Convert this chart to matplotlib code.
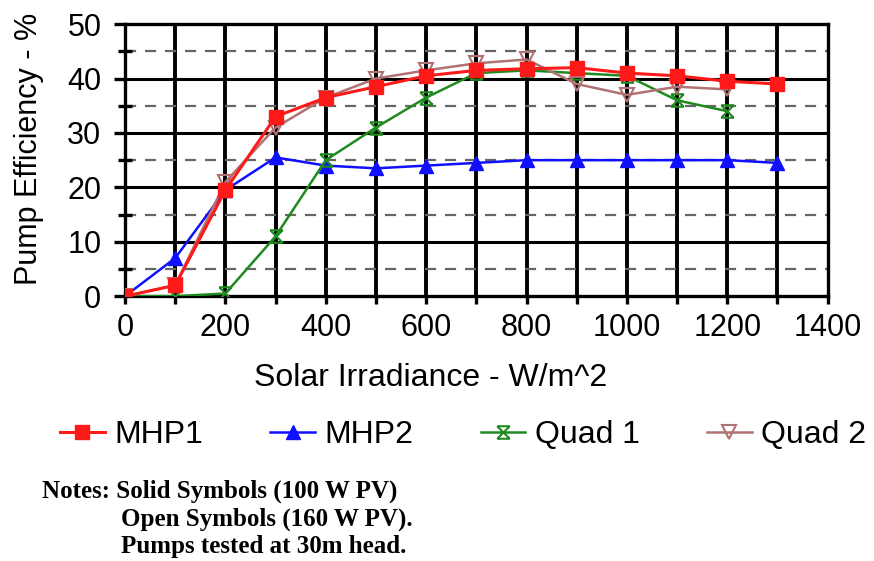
import matplotlib
matplotlib.use("Agg")
import matplotlib.pyplot as plt
import numpy as np
from matplotlib.path import Path

# solar irradiance (W/m^2) and pump efficiency (%) per pump
irradiance = [0, 100, 200, 300, 400, 500, 600, 700, 800, 900, 1000, 1100, 1200, 1300]
mhp1 = [0, 2, 19.5, 33, 36.5, 38.5, 40.5, 41.5, 41.8, 42, 41, 40.5, 39.5, 39]
mhp2 = [0, 7, 19.5, 25.5, 24, 23.5, 24, 24.5, 25, 25, 25, 25, 25, 24.5]
quad1_x = irradiance[:13]
quad1 = [0, 0, 0.5, 11, 25, 31, 36.5, 41, 41.5, 41, 40.5, 36, 34]
quad2_x = irradiance[:13]
quad2 = [0, 2, 21, 31, 36.5, 40, 41.5, 42.8, 43.5, 39, 37, 38.5, 38]

notes = ["Notes: Solid Symbols (100 W PV)",
         "Open Symbols (160 W PV).",
         "Pumps tested at 30m head."]

# X with bars across top and bottom
bowtie = Path([(-1, 1), (1, 1), (-1, -1), (1, -1), (-1, 1), (1, -1), (-1, -1), (1, 1)],
              [Path.MOVETO, Path.LINETO, Path.MOVETO, Path.LINETO,
               Path.MOVETO, Path.LINETO, Path.MOVETO, Path.LINETO])

plt.rcParams['font.family'] = ['Liberation Sans', 'DejaVu Sans']

fig = plt.figure(figsize=(8.74, 5.61), dpi=100)
ax = fig.add_axes([0.143, 0.472, 0.804, 0.485])

ax.set_xlim(0, 1400)
ax.set_ylim(0, 50)
ax.set_xticks(np.arange(0, 1401, 200))
ax.set_xticks(np.arange(0, 1401, 100), minor=True)
ax.set_yticks(np.arange(0, 51, 10))
ax.set_yticks(np.arange(5, 50, 10), minor=True)

# grid: solid verticals every 100, solid horizontals every 10, dashed at the 5s
for xv in np.arange(100, 1400, 100):
    ax.axvline(xv, color='black', lw=2.8, zorder=1)
for yv in np.arange(10, 50, 10):
    ax.axhline(yv, color='black', lw=2.2, zorder=1)
for yv in np.arange(5, 50, 10):
    ax.axhline(yv, color='#666666', lw=1.6, ls=(0, (5, 4)), zorder=1)

for s in ax.spines.values():
    s.set_linewidth(2.4)

ax.tick_params(axis='x', which='both', direction='out', length=6, width=2.4,
               labelsize=22, pad=6)
ax.tick_params(axis='y', which='major', direction='out', length=8, width=2.4,
               labelsize=22, pad=9)
ax.tick_params(axis='y', which='minor', direction='inout', length=10, width=2.4)

ax.plot(irradiance, mhp1, color='#ff1a1a', lw=2.2, marker='s', ms=10,
        mfc='#ff1a1a', mec='#ff1a1a', label='MHP1', zorder=4)
ax.plot(irradiance, mhp2, color='#1010ff', lw=1.8, marker='^', ms=10,
        mfc='#1010ff', mec='#1010ff', label='MHP2', zorder=3)
ax.plot(quad1_x, quad1, color='#1f8a1f', lw=1.8, marker=bowtie, ms=9,
        mfc='none', mec='#1f8a1f', mew=1.5, label='Quad 1', zorder=3)
ax.plot(quad2_x, quad2, color='#b07272', lw=1.8, marker='v', ms=10,
        mfc='none', mec='#b07272', mew=1.5, label='Quad 2', zorder=3)

ax.set_xlabel('Solar Irradiance - W/m^2', fontsize=23)
ax.xaxis.set_label_coords(0.435, -0.245)
ax.set_ylabel('Pump Efficiency - %', fontsize=22)
ax.yaxis.set_label_coords(-0.115, 0.54)

fig.legend(loc='center', bbox_to_anchor=(0.53, 1 - 435 / 561), ncol=4,
           frameon=False, fontsize=23, handlelength=1.4, handletextpad=0.3,
           columnspacing=2.1)

serif = ['Liberation Serif', 'DejaVu Serif']
fig.text(42 / 874, 1 - 498 / 561, notes[0], ha='left', va='baseline',
         fontsize=18, fontweight='bold', family=serif)
fig.text(121 / 874, 1 - 526 / 561, notes[1], ha='left', va='baseline',
         fontsize=18, fontweight='bold', family=serif)
fig.text(121 / 874, 1 - 553 / 561, notes[2], ha='left', va='baseline',
         fontsize=18, fontweight='bold', family=serif)

fig.savefig('out.png', dpi=100)
